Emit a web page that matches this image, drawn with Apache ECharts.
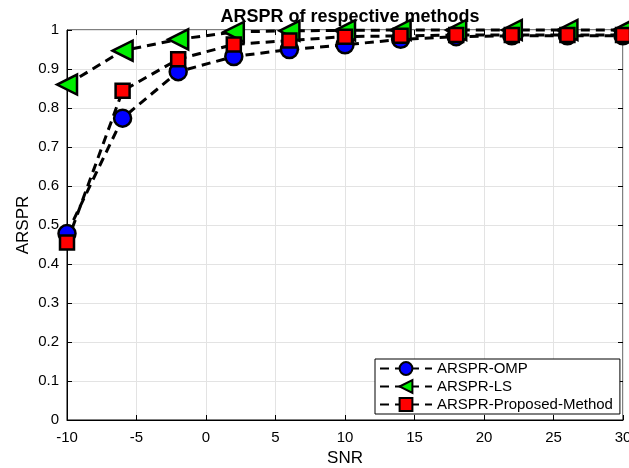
<!DOCTYPE html>
<html>
<head>
<meta charset="utf-8">
<script src="https://cdn.jsdelivr.net/npm/echarts@6/dist/echarts.min.js"></script>
<style>
  html, body { margin: 0; padding: 0; background: #fff; }
  #chart { width: 629px; height: 468px; }
</style>
</head>
<body>
<div id="chart"></div>
<script>
// SNR points
const snr = [-10, -6, -2, 2, 6, 10, 14, 18, 22, 26, 30]
const omp = [0.478, 0.774, 0.893, 0.932, 0.950, 0.962, 0.976, 0.983, 0.985, 0.985, 0.985]
const ls = [0.860, 0.947, 0.976, 0.995, 0.998, 0.999, 1.0, 1.0, 1.0, 1.0, 1.0]
const proposed = [0.455, 0.844, 0.925, 0.963, 0.973, 0.983, 0.985, 0.987, 0.987, 0.987, 0.987]
const names = ['ARSPR-OMP', 'ARSPR-LS', 'ARSPR-Proposed-Method']

const font = 'Liberation Sans, Arial, sans-serif'
const chart = echarts.init(document.getElementById('chart'))

function pairs(vals) {
  return snr.map((x, i) => [x, vals[i]])
}

function lineSeries(name, vals, symbol, color, size, rotate) {
  return {
    name: name,
    type: 'line',
    data: pairs(vals),
    symbol: symbol,
    symbolSize: size,
    symbolRotate: rotate || 0,
    showAllSymbol: true,
    clip: false,
    lineStyle: { color: '#000', width: 3, type: [9, 6] },
    itemStyle: { color: color, borderColor: '#000', borderWidth: 2.5 },
    emphasis: { disabled: true },
    animation: false
  }
}

// box ticks on top / right like matlab
const tickOnly = {
  axisLine: { show: false, onZero: false },
  axisTick: { show: true, inside: true, length: 5, lineStyle: { color: '#000' } },
  axisLabel: { show: false },
  splitLine: { show: false }
}

chart.setOption({
  backgroundColor: '#fff',
  title: {
    text: 'ARSPR of respective methods',
    left: 345,
    textAlign: 'center',
    top: 3,
    textStyle: { fontFamily: font, fontSize: 18, fontWeight: 'bold', color: '#000' }
  },
  grid: {
    left: 67, right: 6, top: 30, bottom: 48,
    outerBoundsMode: 'none',
    containLabel: false,
    show: true, borderColor: '#000', borderWidth: 1
  },
  legend: {
    orient: 'vertical',
    left: 375, top: 359,
    itemWidth: 52, itemHeight: 16, itemGap: 3,
    padding: [2, 7, 2, 4],
    backgroundColor: '#fff',
    borderColor: '#000', borderWidth: 1, borderRadius: 0,
    textStyle: { fontFamily: font, fontSize: 15, color: '#000' },
    data: names
  },
  xAxis: [{
    type: 'value',
    min: -10, max: 30, interval: 5,
    name: 'SNR',
    nameLocation: 'middle',
    nameGap: 30,
    nameTextStyle: { fontFamily: font, fontSize: 17, color: '#000' },
    axisLine: { onZero: false, lineStyle: { color: '#000', width: 1 } },
    axisTick: { inside: true, length: 5, lineStyle: { color: '#000' } },
    axisLabel: { fontFamily: font, fontSize: 15, color: '#000', margin: 10 },
    splitLine: { lineStyle: { color: '#e3e3e3', width: 1 } }
  }, Object.assign({
    type: 'value', position: 'top', min: -10, max: 30, interval: 5
  }, tickOnly)],
  yAxis: [{
    type: 'value',
    min: 0, max: 1, interval: 0.1,
    name: 'ARSPR',
    nameLocation: 'middle',
    nameGap: 35,
    nameMoveOverlap: false,
    nameTextStyle: { fontFamily: font, fontSize: 17, color: '#000' },
    axisLine: { show: true, onZero: false, lineStyle: { color: '#000', width: 1 } },
    axisTick: { show: true, inside: true, length: 5, lineStyle: { color: '#000' } },
    axisLabel: { fontFamily: font, fontSize: 15, color: '#000', margin: 8 },
    splitLine: { lineStyle: { color: '#e3e3e3', width: 1 } }
  }, Object.assign({
    type: 'value', position: 'right', min: 0, max: 1, interval: 0.1
  }, tickOnly)],
  series: [
    lineSeries(names[0], omp, 'circle', '#0000ff', 17),
    lineSeries(names[1], ls, 'triangle', '#00ee00', 20, 90),
    lineSeries(names[2], proposed, 'rect', '#ff0000', 14)
  ]
})
</script>
</body>
</html>
